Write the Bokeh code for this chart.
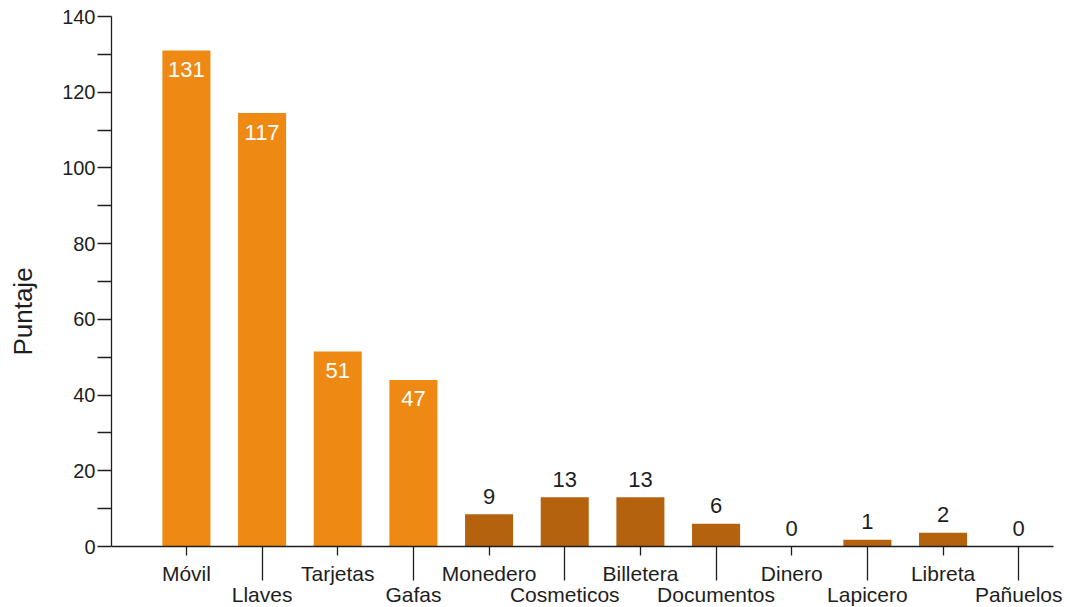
from bokeh.plotting import figure
from bokeh.models import LinearAxis, FixedTicker, Range1d, ColumnDataSource
from bokeh.transform import factor_cmap
from bokeh.embed import file_html
from bokeh.resources import INLINE
from bokeh.core.properties import value

# ---- data ----
categories = ["Móvil", "Llaves", "Tarjetas", "Gafas", "Monedero", "Cosmeticos",
              "Billetera", "Documentos", "Dinero", "Lapicero", "Libreta", "Pañuelos"]
bar_heights = [131, 114.5, 51.5, 44, 8.5, 13, 13, 6, 0, 1.8, 3.6, 0]
bar_labels = ["131", "117", "51", "47", "9", "13", "13", "6", "0", "1", "2", "0"]
groups = ["alto", "alto", "alto", "alto", "bajo", "bajo", "bajo", "bajo",
          "bajo", "bajo", "bajo", "bajo"]
y_ticks = [0, 10, 20, 30, 40, 50, 60, 70, 80, 90, 100, 110, 120, 130, 140]

FONT = "Liberation Sans"
INK = "#1e1e1e"

xs = list(range(len(categories)))
src = ColumnDataSource(dict(x=xs, top=bar_heights, label=bar_labels, group=groups))
inside = ColumnDataSource(dict(
    x=[x for x, g in zip(xs, groups) if g == "alto"],
    y=[h for h, g in zip(bar_heights, groups) if g == "alto"],
    label=[l for l, g in zip(bar_labels, groups) if g == "alto"]))
outside = ColumnDataSource(dict(
    x=[x for x, g in zip(xs, groups) if g == "bajo"],
    y=[h for h, g in zip(bar_heights, groups) if g == "bajo"],
    label=[l for l, g in zip(bar_labels, groups) if g == "bajo"]))

# frame: top 16px below plot top, bottom = plot bottom; 530px per 140 units
H = 606
TOP = 16
frame_h = H - TOP
y_start = -(frame_h - 530) * 140 / 530

X_START, X_AXIS_END, X_END = -0.99, 11.46, 11.605

p = figure(width=1066, height=H,
           x_range=Range1d(X_START, X_END), y_range=Range1d(y_start, 140),
           x_axis_type=None, y_axis_type=None,
           output_backend="svg", toolbar_location=None,
           min_border_left=111, min_border_right=2,
           min_border_top=TOP, min_border_bottom=0)
p.outline_line_color = None
p.background_fill_color = "white"
p.border_fill_color = "white"

p.vbar(x="x", top="top", bottom=0, width=0.635, source=src, line_color=None,
       fill_color=factor_cmap("group", palette=["#EE8A14", "#B5620F"],
                              factors=["alto", "bajo"]))

p.text(x="x", y="y", text="label", source=inside, text_color="white",
       text_align="center", text_baseline="alphabetic", y_offset=19,
       text_font=value(FONT), text_font_size="22px")
p.text(x="x", y="y", text="label", source=outside, text_color=INK,
       text_align="center", text_baseline="alphabetic", y_offset=-18,
       text_font=value(FONT), text_font_size="22px")

# y axis
yaxis = LinearAxis(ticker=FixedTicker(ticks=y_ticks), bounds=(0, 140),
                   axis_label="Puntaje")
yaxis.major_label_overrides = {t: (str(t) if t % 20 == 0 else "") for t in y_ticks}
yaxis.minor_tick_line_color = None
yaxis.major_tick_in = 0
yaxis.major_tick_out = 14
yaxis.major_label_standoff = 2
yaxis.axis_line_color = INK
yaxis.major_tick_line_color = INK
yaxis.axis_line_width = 1.3
yaxis.major_tick_line_width = 1.3
yaxis.major_label_text_font = FONT
yaxis.major_label_text_font_size = "20px"
yaxis.major_label_text_color = INK
yaxis.axis_label_text_font = FONT
yaxis.axis_label_text_font_size = "26px"
yaxis.axis_label_text_font_style = "normal"
yaxis.axis_label_text_color = INK
yaxis.axis_label_standoff = 21
p.add_layout(yaxis, "left")

# x axes: two staggered rows of category labels
even = xs[0::2]
odd = xs[1::2]
ax_a = LinearAxis(ticker=FixedTicker(ticks=even), fixed_location=0,
                  bounds=(X_START, X_AXIS_END),
                  major_label_overrides={i: categories[i] for i in even})
ax_b = LinearAxis(ticker=FixedTicker(ticks=odd), fixed_location=0,
                  bounds=(X_START, X_AXIS_END),
                  major_label_overrides={i: categories[i] for i in odd})
for ax, tout, stand in ((ax_a, 9, 6), (ax_b, 34, 2)):
    ax.minor_tick_line_color = None
    ax.major_tick_in = 0
    ax.major_tick_out = tout
    ax.major_label_standoff = stand
    ax.major_tick_line_color = INK
    ax.major_tick_line_width = 1.3
    ax.major_label_text_font = FONT
    ax.major_label_text_font_size = "21px"
    ax.major_label_text_color = INK
    ax.axis_line_color = INK
    ax.axis_line_width = 1.3
ax_b.axis_line_color = None
p.add_layout(ax_a, "below")
p.add_layout(ax_b, "below")

open("out.html", "w").write(file_html(p, INLINE))
